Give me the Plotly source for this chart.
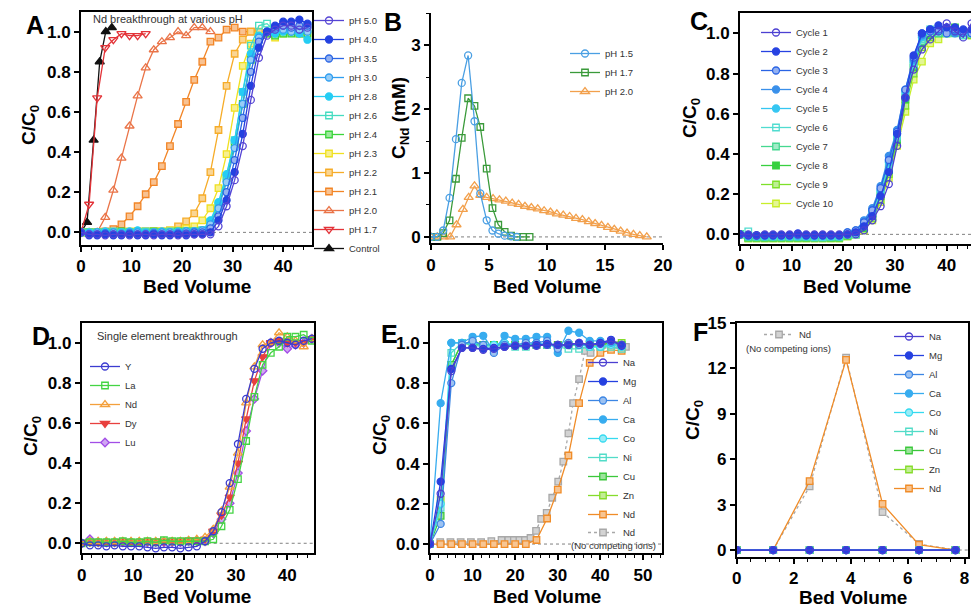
import plotly.graph_objects as go

W, H = 971, 607
FONT = "Liberation Sans, Arial, Helvetica, sans-serif"

# ---------------- Panel A : Nd breakthrough at various pH ----------------
A_BV = [0, 1.6, 3.2, 4.8, 6.4, 8.0, 9.6, 11.2, 12.8, 14.4, 16.0, 17.6, 19.2, 20.8, 22.4,
        24.0, 25.6, 27.2, 28.8, 30.4, 32.0, 33.6, 35.2, 36.8, 38.4, 40.0, 41.6, 43.2, 44.8]
A_CONTROL_BV = [0, 1.2, 2.5, 3.7, 4.9, 6.1]
A_PH50 = [0, -0.01, -0.01, -0.015, -0.01, -0.01, -0.015, -0.01, -0.01, -0.015, -0.01, -0.01, -0.015, -0.01, -0.01,
          -0.01, -0.01, 0.03, 0.13, 0.26, 0.43, 0.66, 0.87, 0.98, 1.01, 1.03, 1.03, 1.01, 1.02]
A_PH40 = [0, -0.015, -0.015, -0.01, -0.015, -0.015, -0.01, -0.015, -0.015, -0.01, -0.015, -0.015, -0.01, -0.015, -0.01,
          -0.01, 0.0, 0.06, 0.16, 0.30, 0.49, 0.73, 0.92, 1.0, 1.03, 1.05, 1.05, 1.06, 1.04]
A_PH35 = [0, -0.01, -0.01, -0.005, -0.01, -0.01, -0.005, -0.01, -0.01, -0.005, -0.01, -0.01, -0.005, -0.005, 0.0,
          0.0, 0.02, 0.08, 0.20, 0.36, 0.57, 0.80, 0.95, 1.0, 1.02, 1.03, 1.02, 1.03, 1.03]
A_PH30 = [0, -0.005, 0, -0.005, 0, -0.005, 0, 0, -0.005, 0, 0, 0, 0, 0.005, 0.005,
          0.01, 0.04, 0.12, 0.25, 0.42, 0.64, 0.86, 0.97, 1.0, 1.01, 1.01, 1.0, 1.01, 1.0]
A_PH28 = [0, 0, 0, 0.005, 0, 0, 0.005, 0.01, 0, 0, 0.005, 0, 0.005, 0.005, 0.005,
          0.01, 0.06, 0.15, 0.29, 0.46, 0.70, 0.89, 0.98, 1.0, 0.99, 1.0, 1.0, 0.99, 0.96]
A_PH26 = [0, 0, 0, 0, 0.005, 0, 0, 0, 0.005, 0, 0, 0.005, 0, 0.005, 0.005,
          0.01, 0.05, 0.14, 0.28, 0.46, 0.70, 0.93, 1.03, 1.04, 1.0, 1.02, 1.01, 1.0, 1.03]
A_PH24 = [0, 0, 0, 0, 0, 0.005, 0, 0, 0, 0.005, 0, 0, 0.005, 0.005, 0.005,
          0.01, 0.05, 0.13, 0.27, 0.44, 0.64, 0.86, 0.97, 0.99, 0.98, 0.99, 0.99, 0.99, 0.99]
A_PH23 = [0, 0, 0, 0, 0, 0, 0.005, 0.005, 0.005, 0.005, 0.005, 0.01, 0.01, 0.02, 0.03,
          0.06, 0.12, 0.22, 0.39, 0.62, 0.83, 0.94, 0.98, 0.99, 0.97, 0.99, 1.0, 0.99, 0.98]
A_PH22 = [0, 0, 0, 0, 0, 0, 0, 0.005, 0.005, 0.005, 0.005, 0.01, 0.03, 0.055, 0.095,
          0.17, 0.30, 0.51, 0.73, 0.89, 0.96, 1.0, 1.0]
A_PH21 = [0, 0, 0, 0.005, 0.016, 0.04, 0.08, 0.13, 0.19, 0.25, 0.33, 0.43, 0.54, 0.65, 0.76,
          0.85, 0.95, 0.97, 1.01, 1.02, 1.0, 1.0]
A_PH20 = [0, 0, 0, 0.075, 0.21, 0.37, 0.53, 0.68, 0.82, 0.91, 0.95, 0.97, 1.0, 0.98, 1.02, 1.02, 1.0]
A_PH17 = [0, 0.14, 0.67, 0.92, 0.96, 0.99, 0.98, 0.98, 0.99]
A_CONTROL = [0, 0.05, 0.46, 0.85, 1.0, 1.02]

# ---------------- Panel B : Nd elution ----------------
B_PH15_BV = [0, 0.5, 1.05, 1.6, 2.15, 2.65, 3.2, 3.75, 4.25, 4.8, 5.3, 5.8, 6.35, 6.9, 7.4]
B_PH15 = [0, 0, 0.1, 0.61, 1.53, 2.41, 2.84, 1.81, 0.68, 0.26, 0.1, 0.05, 0.02, 0.01, 0.0]
B_PH17_BV = [0, 0.55, 1.05, 1.6, 2.15, 2.65, 3.2, 3.75, 4.25, 4.8, 5.3, 5.8, 6.35, 6.9, 7.4, 7.95, 8.5]
B_PH17 = [0, 0, 0.06, 0.26, 0.91, 1.55, 2.17, 2.05, 1.72, 1.07, 0.45, 0.19, 0.08, 0.02, 0.0, 0.0, 0.0]
B_PH20_BV = [0, 0.55, 1.1, 1.65, 2.2, 2.75, 3.25, 3.75, 4.25, 4.8, 5.35, 5.9, 6.45, 7.0, 7.55, 8.1,
             8.65, 9.2, 9.75, 10.3, 10.85, 11.4, 11.95, 12.5, 13.05, 13.6, 14.15, 14.7, 15.25,
             15.8, 16.35, 16.9, 17.45, 18.0, 18.6]
B_PH20 = [0, 0, 0, 0, 0.19, 0.43, 0.62, 0.80, 0.65, 0.62, 0.60, 0.58, 0.56, 0.53, 0.51, 0.48,
          0.46, 0.44, 0.41, 0.39, 0.36, 0.34, 0.32, 0.29, 0.27, 0.24, 0.21, 0.18, 0.15,
          0.12, 0.09, 0.06, 0.04, 0.02, 0.0]

# ---------------- Panel C : cycles ----------------
C_BV = [0, 1.6, 3.2, 4.8, 6.4, 8.0, 9.6, 11.2, 12.8, 14.4, 16.0, 17.6, 19.2, 20.8,
        22.4, 24.0, 25.6, 27.2, 28.8, 30.4, 32.0, 33.6, 35.2, 36.8, 38.4, 40.0, 41.6, 43.2, 44.8]
C_CYC1 = [0, 0, -0.005, 0, 0, 0, 0, 0, 0, 0, 0, 0, 0, 0,
          0.0, 0.02, 0.07, 0.14, 0.25, 0.44, 0.68, 0.82, 0.92, 0.97, 1.01, 1.05, 1.01, 0.98, 1.05]
C_CYC2 = [0, -0.005, -0.005, -0.005, -0.005, -0.005, -0.005, 0.005, -0.005, -0.005, -0.005, -0.005, -0.005, 0.0,
          0.01, 0.04, 0.09, 0.19, 0.31, 0.50, 0.68, 0.89, 1.0, 1.02, 1.04, 1.03, 1.03, 1.02, 1.02]
C_CYC3 = [0, -0.005, -0.005, -0.005, -0.005, -0.005, -0.005, 0.0, -0.005, -0.005, -0.005, -0.005, -0.005, 0.01,
          0.02, 0.06, 0.12, 0.23, 0.37, 0.51, 0.72, 0.88, 1.0, 1.01, 1.02, 1.0, 1.02, 1.01, 1.0]
C_CYC4 = [0, -0.005, -0.005, -0.005, -0.005, -0.005, -0.005, -0.005, -0.005, -0.005, -0.005, -0.005, -0.005, 0.01,
          0.02, 0.07, 0.13, 0.24, 0.39, 0.52, 0.72, 0.87, 0.99, 1.02, 1.02, 1.02, 1.0, 1.01, 1.01]
C_CYC5 = [0, -0.01, -0.01, -0.01, -0.01, -0.01, -0.01, -0.01, -0.01, -0.01, -0.01, -0.01, -0.01, 0.0,
          0.01, 0.05, 0.12, 0.22, 0.36, 0.50, 0.71, 0.86, 0.98, 1.01, 1.01, 1.0, 1.01, 1.0, 1.0]
C_CYC6 = [0, 0.015, -0.01, -0.01, -0.01, -0.01, -0.01, -0.01, -0.01, -0.015, -0.015, -0.01, -0.01, 0.0,
          0.0, 0.05, 0.11, 0.21, 0.35, 0.49, 0.70, 0.85, 0.97, 1.02, 1.01, 1.0, 1.01, 0.99, 1.0]
C_CYC7 = [0, -0.015, -0.015, -0.015, -0.015, -0.015, -0.015, -0.015, -0.015, -0.015, -0.015, -0.015, -0.015, -0.005,
          0.0, 0.04, 0.10, 0.20, 0.33, 0.48, 0.68, 0.84, 0.96, 1.0, 1.0, 1.01, 1.0, 0.99, 1.0]
C_CYC8 = [0, -0.015, -0.015, -0.015, -0.015, -0.015, -0.015, -0.015, -0.015, -0.015, -0.015, -0.015, -0.015, -0.005,
          0.0, 0.03, 0.09, 0.19, 0.32, 0.47, 0.67, 0.83, 0.95, 0.99, 1.0, 1.01, 1.03, 1.0, 1.0]
C_CYC9 = [0, -0.02, -0.02, -0.02, -0.02, -0.02, -0.02, -0.02, -0.02, -0.02, -0.02, -0.02, -0.02, -0.01,
          0.0, 0.03, 0.08, 0.17, 0.30, 0.46, 0.64, 0.80, 0.93, 0.98, 1.0, 1.0, 1.02, 1.0, 0.99]
C_CYC10 = [0, -0.02, -0.02, -0.02, -0.02, -0.02, -0.02, -0.02, -0.02, -0.02, -0.02, -0.02, -0.02, -0.01,
           0.0, 0.02, 0.07, 0.16, 0.28, 0.44, 0.61, 0.77, 0.86, 0.95, 0.97, 1.0, 1.02, 1.0, 0.99]

# ---------------- Panel D : single element breakthrough ----------------
D_BV = [0, 1.6, 3.2, 4.8, 6.4, 8.0, 9.6, 11.2, 12.8, 14.4, 16.0, 17.6, 19.2, 20.8, 22.4,
        24.0, 25.6, 27.2, 28.8, 30.4, 32.0, 33.6, 35.2, 36.8, 38.4, 40.0, 41.6, 43.2, 44.8]
D_Y = [0, -0.01, -0.01, -0.015, -0.01, -0.015, -0.015, -0.015, -0.02, -0.025, -0.02, -0.02, -0.025, -0.02, -0.015,
       0.01, 0.06, 0.155, 0.30, 0.495, 0.72, 0.87, 0.97, 1.0, 1.01, 1.0, 0.99, 1.01, 1.02]
D_LA = [0, 0.005, 0.005, 0.005, 0.005, 0.01, 0.005, 0.005, 0.01, 0.005, 0.015, 0.01, 0.01, 0.01, 0.01,
        0.01, 0.02, 0.085, 0.167, 0.32, 0.51, 0.73, 0.89, 0.95, 0.98, 1.03, 1.03, 1.04, 1.01]
D_ND = [0, 0.01, 0.01, 0.01, 0.01, 0.01, 0.01, 0.01, 0.01, 0.01, 0.01, 0.01, 0.01, 0.015, 0.02,
        0.03, 0.07, 0.16, 0.28, 0.45, 0.70, 0.88, 0.99, 1.0, 1.05, 1.03, 1.01, 0.98, 1.02]
D_DY = [0, 0.005, 0.005, 0.005, 0.005, 0.01, 0.005, 0.005, 0.01, 0.01, 0.01, 0.01, 0.01, 0.015, 0.015,
        0.02, 0.06, 0.14, 0.23, 0.40, 0.62, 0.81, 0.93, 1.0, 1.01, 1.0, 1.0, 1.0, 1.02]
D_LU = [0, 0.02, 0.005, 0.005, 0.005, 0.005, 0.005, 0.005, 0.005, 0.005, 0.005, 0.005, 0.005, 0.01, 0.01,
        0.01, 0.05, 0.12, 0.20, 0.35, 0.56, 0.72, 0.86, 1.0, 1.0, 0.97, 0.99, 1.0, 1.02]

# ---------------- Panel E : competing ions breakthrough ----------------
E_BV = [0, 2.5, 5.0, 7.5, 10.0, 12.5, 15.0, 17.5, 20.0, 22.5, 25.0, 27.5, 30.0, 32.5, 35.0, 37.5, 40.0, 42.5, 45.0]
E_NA = [0, 0.25, 0.86, 0.975, 0.975, 0.965, 0.97, 0.98, 0.985, 0.985, 0.985, 0.99, 0.99, 0.99, 1.0, 0.99, 0.995, 1.01, 0.99]
E_MG = [0, 0.31, 0.87, 0.975, 0.975, 0.97, 0.975, 0.98, 0.985, 0.985, 0.99, 0.995, 0.99, 0.99, 1.0, 0.99, 1.0, 1.015, 0.985]
E_AL = [0, 0.10, 0.80, 0.99, 1.01, 0.99, 0.95, 0.99, 0.99, 1.0, 1.0, 1.01, 0.97, 1.0, 0.99, 0.99, 1.0, 1.01, 0.99]
E_CA = [0, 0.70, 1.0, 1.0, 1.03, 1.035, 0.96, 1.035, 1.02, 1.02, 1.03, 1.03, 0.95, 1.06, 1.05, 1.01, 1.01, 1.0, 0.99]
E_CO = [0, 0.20, 1.0, 1.0, 1.0, 0.99, 0.99, 1.0, 0.99, 0.99, 1.0, 0.99, 0.99, 0.99, 0.99, 0.98, 0.98, 0.99, 0.98]
E_NI = [0, 0.18, 0.95, 1.0, 0.99, 0.98, 0.98, 0.99, 0.98, 0.98, 0.99, 0.99, 0.98, 0.97, 0.97, 0.98, 0.98, 0.98, 0.97]
E_CU = [0, 0.14, 0.89, 1.0, 0.99, 0.99, 0.99, 0.99, 0.99, 0.99, 0.99, 0.99, 0.99, 0.99, 0.99, 0.99, 0.99, 1.0, 0.99]
E_ZN = [0, 0.22, 0.89, 1.0, 1.0, 0.99, 0.99, 0.99, 0.99, 0.99, 0.99, 0.99, 0.99, 0.99, 0.99, 0.99, 0.99, 1.0, 1.0]
E_ND = [0, 0, 0, 0, 0, 0, 0, 0, 0, 0, 0.02, 0.127, 0.27, 0.44, 0.70, 0.90, 0.95, 0.965, 0.96]
E_NDREF_BV = [0, 2.4, 4.8, 7.2, 9.6, 12.0, 14.4, 16.8, 18.4, 19.7, 21.0, 22.3, 23.6, 24.9, 26.1, 27.4,
              28.7, 30.1, 31.3, 32.5, 33.6, 35.0, 36.4, 37.7, 40.5, 43.2, 46.0]
E_NDREF = [0, 0.01, 0.01, 0.01, 0.01, 0.01, 0.015, 0.02, 0.02, 0.02, 0.02, 0.02, 0.03, 0.065, 0.125, 0.155,
           0.23, 0.31, 0.41, 0.55, 0.70, 0.82, 0.96, 0.95, 0.99, 0.99, 0.98]

# ---------------- Panel F : elution with competing ions ----------------
F_BV = [0, 1.28, 2.56, 3.84, 5.12, 6.4, 7.68]
F_NA = [0, 0, 0, 0, 0, 0, 0]
F_MG = [0, 0, 0, 0, 0, 0, 0]
F_AL = [0, 0, 0, 0, 0, 0, 0]
F_CA = [0, 0, 0, 0, 0, 0, 0]
F_CO = [0, 0, 0, 0, 0, 0, 0]
F_NI = [0, 0, 0, 0, 0, 0, 0]
F_CU = [0, 0, 0, 0, 0, 0, 0]
F_ZN = [0, 0, 0, 0, 0, 0, 0]
F_ND = [0, 0, 4.55, 12.55, 3.04, 0.35, 0]
F_NDREF = [0, 0, 4.2, 12.7, 2.5, 0.4, 0]

# ---------------- tick labels ----------------
Y_FRAC_TICKS = [0, 0.2, 0.4, 0.6, 0.8, 1.0]
Y_FRAC_TEXT = ["0.0", "0.2", "0.4", "0.6", "0.8", "1.0"]


def lighten(c, f):
    c = c.lstrip('#')
    r, g, b = int(c[0:2], 16), int(c[2:4], 16), int(c[4:6], 16)
    r = int(r + (255 - r) * f); g = int(g + (255 - g) * f); b = int(b + (255 - b) * f)
    return f'#{r:02x}{g:02x}{b:02x}'


fig = go.Figure()


def ax_id(n, kind):
    return kind if n == 1 else f'{kind}{n}'


def leg_id(n):
    return 'legend' if n == 1 else f'legend{n}'


def add_series(n, specs, legend=None):
    legend = legend or leg_id(n)
    # draw in reverse so the first-listed series sits on top; keep legend order with legendrank
    for rank in range(len(specs) - 1, -1, -1):
        s = specs[rank]
        name, x, y, color, symbol, fill = s[:6]
        opts = s[6] if len(s) > 6 else {}
        fc = {'open': 'rgba(255,255,255,0)', 'full': color, 'half': lighten(color, 0.5)}[fill]
        size = opts.get('size', 7 if 'circle' in symbol else (8 if 'triangle' in symbol else 6.5))
        fig.add_trace(go.Scatter(
            x=x, y=y, name=name, mode='lines+markers',
            xaxis=ax_id(n, 'x'), yaxis=ax_id(n, 'y'),
            legend=legend, legendrank=rank + 1,
            line=dict(color=opts.get('lcolor', color), width=1.3, dash=opts.get('dash', 'solid')),
            marker=dict(symbol=symbol, size=size, color=fc, line=dict(color=color, width=1.3)),
            hoverinfo='x+y+name'))


# Panel A
add_series(1, [
    ("pH 5.0", A_BV, A_PH50, '#5544d4', 'circle', 'open'),
    ("pH 4.0", A_BV, A_PH40, '#2341e0', 'circle', 'full'),
    ("pH 3.5", A_BV, A_PH35, '#2a66e4', 'circle', 'half'),
    ("pH 3.0", A_BV, A_PH30, '#2f9ef0', 'circle', 'half'),
    ("pH 2.8", A_BV, A_PH28, '#25cdf4', 'circle', 'full'),
    ("pH 2.6", A_BV, A_PH26, '#45dcc0', 'square', 'open'),
    ("pH 2.4", A_BV, A_PH24, '#3ad43a', 'square', 'half'),
    ("pH 2.3", A_BV, A_PH23, '#f0e020', 'square', 'half'),
    ("pH 2.2", A_BV[:len(A_PH22)], A_PH22, '#f6ac28', 'square', 'half'),
    ("pH 2.1", A_BV[:len(A_PH21)], A_PH21, '#f28526', 'square', 'half'),
    ("pH 2.0", A_BV[:len(A_PH20)], A_PH20, '#ea7448', 'triangle-up', 'open'),
    ("pH 1.7", A_BV[:len(A_PH17)], A_PH17, '#e33338', 'triangle-down', 'open'),
    ("Control", A_CONTROL_BV, A_CONTROL, '#111111', 'triangle-up', 'full'),
])

# Panel B
add_series(2, [
    ("pH 1.5", B_PH15_BV, B_PH15, '#4a9fe3', 'circle', 'open'),
    ("pH 1.7", B_PH17_BV, B_PH17, '#3a9a3a', 'square', 'open'),
    ("pH 2.0", B_PH20_BV, B_PH20, '#f2a04c', 'triangle-up', 'open'),
])

# Panel C
add_series(3, [
    ("Cycle 1", C_BV, C_CYC1, '#4c40d2', 'circle', 'open'),
    ("Cycle 2", C_BV, C_CYC2, '#2742e2', 'circle', 'full'),
    ("Cycle 3", C_BV, C_CYC3, '#2a64e4', 'circle', 'half'),
    ("Cycle 4", C_BV, C_CYC4, '#3a90ea', 'circle', 'full'),
    ("Cycle 5", C_BV, C_CYC5, '#35c6f2', 'circle', 'full'),
    ("Cycle 6", C_BV, C_CYC6, '#50dcd0', 'square', 'open'),
    ("Cycle 7", C_BV, C_CYC7, '#45d890', 'square', 'half'),
    ("Cycle 8", C_BV, C_CYC8, '#38d040', 'square', 'full'),
    ("Cycle 9", C_BV, C_CYC9, '#7ee02a', 'square', 'half'),
    ("Cycle 10", C_BV, C_CYC10, '#c8ee2a', 'square', 'half'),
])

# Panel D
add_series(4, [
    ("Y", D_BV, D_Y, '#3c3cd0', 'circle', 'open'),
    ("La", D_BV, D_LA, '#44d444', 'square', 'open'),
    ("Nd", D_BV, D_ND, '#f3a03c', 'triangle-up', 'open'),
    ("Dy", D_BV, D_DY, '#e8403e', 'triangle-down', 'full'),
    ("Lu", D_BV, D_LU, '#a24ee6', 'diamond', 'half'),
])

METAL_STYLE = [
    ("Na", '#4b3fd1', 'circle', 'open'),
    ("Mg", '#2540e0', 'circle', 'full'),
    ("Al", '#3c86e4', 'circle', 'half'),
    ("Ca", '#37acef', 'circle', 'full'),
    ("Co", '#35daf0', 'circle', 'half'),
    ("Ni", '#52dcc8', 'square', 'open'),
    ("Cu", '#3cc83c', 'square', 'half'),
    ("Zn", '#86dc2c', 'square', 'half'),
    ("Nd", '#f08c28', 'square', 'half'),
]
GRAY = '#a8a8a8'

# Panel E
E_VALUES = [E_NA, E_MG, E_AL, E_CA, E_CO, E_NI, E_CU, E_ZN, E_ND]
add_series(5, [("Nd", E_NDREF_BV, E_NDREF, GRAY, 'square', 'half', {'dash': 'dot'})], legend='legend8')
add_series(5, [(nm, E_BV, v, c, sy, fl) for (nm, c, sy, fl), v in zip(METAL_STYLE, E_VALUES)])

# Panel F
F_VALUES = [F_NA, F_MG, F_AL, F_CA, F_CO, F_NI, F_CU, F_ZN, F_ND]
add_series(6, [("Nd", F_BV, F_NDREF, GRAY, 'square', 'half', {'dash': 'dot'})], legend='legend7')
add_series(6, [(nm, F_BV, v, c, sy, fl) for (nm, c, sy, fl), v in zip(METAL_STYLE, F_VALUES)])

# ---------------- axes ----------------
TICKFONT = dict(family=FONT, size=17, color='black', weight='bold')


def base_axis(dom, rng, mirror):
    return dict(domain=dom, range=rng, showline=True, linecolor='black', linewidth=1.7,
                mirror=mirror, ticks='outside', ticklen=5, tickwidth=1.5, tickcolor='black',
                showgrid=False, zeroline=False, tickfont=TICKFONT, fixedrange=True,
                automargin=False)


PANELS = [
    # n, x px domain, y px domain, x range, y range, x dtick, x minor, y spec, x mirror, y mirror
    (1, (81, 312), (12, 245), [0, 45.7], [-0.063, 1.098], 10, 2, 'frac', True, True),
    (2, (431, 663), (13.3, 243.3), [0, 20], [-0.1, 3.5], 5, None, 'mM', False, False),
    (3, (740, 971), (13.3, 244), [0, 44.7], [-0.048, 1.1], 10, 2, 'frac', True, False),
    (4, (81.7, 314), (322.7, 553.3), [0, 45.2], [-0.05, 1.1], 10, 2, 'frac', True, True),
    (5, (430, 661.7), (322.7, 553.3), [0, 54.4], [-0.046, 1.1], 10, 2, 'frac', True, True),
    (6, (736.7, 968), (322.7, 556.7), [0, 8.12], [-0.44, 15], 2, 0.5, 'F', True, True),
]

layout = {}
shapes = []
for n, xd, yd, xr, yr, xdt, xmin, yspec, xmir, ymir in PANELS:
    xa = base_axis([xd[0] / W, xd[1] / W], xr, xmir)
    xa.update(tick0=0, dtick=xdt, anchor=ax_id(n, 'y'))
    if xmin:
        xa['minor'] = dict(dtick=xmin, tick0=0, ticks='outside', ticklen=3, tickwidth=1.2, tickcolor='black')
    ya = base_axis([1 - yd[1] / H, 1 - yd[0] / H], yr, ymir)
    ya['anchor'] = ax_id(n, 'x')
    if yspec == 'frac':
        ya.update(tickmode='array', tickvals=Y_FRAC_TICKS, ticktext=Y_FRAC_TEXT)
    elif yspec == 'mM':
        ya.update(tick0=0, dtick=1, minor=dict(dtick=0.5, tick0=0, ticks='outside', ticklen=3,
                                                tickwidth=1.2, tickcolor='black'))
    else:
        ya.update(tick0=0, dtick=3)
    layout['xaxis' if n == 1 else f'xaxis{n}'] = xa
    layout['yaxis' if n == 1 else f'yaxis{n}'] = ya
    shapes.append(dict(type='line', xref=f'{ax_id(n, "x")} domain', x0=0, x1=1,
                       yref=ax_id(n, 'y'), y0=0, y1=0, layer='below',
                       line=dict(color='#808080', width=1, dash='dot')))


def legend_box(xpx, ytop):
    return dict(x=xpx / W, y=1 - ytop / H, xanchor='left', yanchor='top',
                bgcolor='rgba(0,0,0,0)', borderwidth=0, tracegroupgap=0,
                font=dict(family=FONT, size=9.5, color='#333333'), itemclick=False,
                itemdoubleclick=False)


layout['legend'] = legend_box(309, 6)
layout['legend2'] = legend_box(565, 39)
layout['legend3'] = legend_box(756, 18)
layout['legend4'] = legend_box(85, 352)
layout['legend5'] = legend_box(583, 348)
layout['legend6'] = legend_box(889, 322)
layout['legend7'] = legend_box(759, 320)
layout['legend8'] = legend_box(583, 518)

# ---------------- annotations ----------------
ann = []


def txt(x, y, s, size, bold=False, angle=0, xanchor='center', color='black'):
    f = dict(family=FONT, size=size, color=color)
    if bold:
        f['weight'] = 'bold'
    ann.append(dict(x=x / W, y=1 - y / H, xref='paper', yref='paper', text=s, showarrow=False,
                    font=f, textangle=angle, xanchor=xanchor, yanchor='middle'))


for letter, x, y in [("A", 35, 25), ("B", 393, 22), ("C", 699, 21.5),
                     ("D", 41, 336), ("E", 389, 334), ("F", 700, 331.5)]:
    txt(x, y, letter, 25, bold=True)

for x, y in [(197, 286.7), (546.7, 286.7), (856.7, 286.7), (196.7, 596), (546.7, 596), (853, 597)]:
    txt(x, y, "Bed Volume", 19, bold=True)

for x, y in [(30, 125), (691, 118), (32, 436), (381, 435), (694, 420)]:
    txt(x, y, "C/C<sub>0</sub>", 19, bold=True, angle=-90)
txt(400, 118, "C<sub>Nd</sub> (mM)", 19, bold=True, angle=-90)

txt(168, 18.7, "Nd breakthrough at various pH", 11, color='#333333')
txt(95, 335.7, "Single element breakthrough", 11, xanchor='left', color='#333333')
txt(613, 545, "(No competing ions)", 9.5, color='#333333')
txt(788, 348, "(No competing ions)", 9.5, color='#333333')

layout.update(width=W, height=H, margin=dict(l=0, r=0, t=0, b=0, autoexpand=False),
              paper_bgcolor='white', plot_bgcolor='white', showlegend=True,
              annotations=ann, shapes=shapes, font=dict(family=FONT))
fig.update_layout(**layout)
fig.write_html("out.html", config={'displayModeBar': False},
               post_script="document.body.style.margin='0';document.body.style.overflow='hidden';")
